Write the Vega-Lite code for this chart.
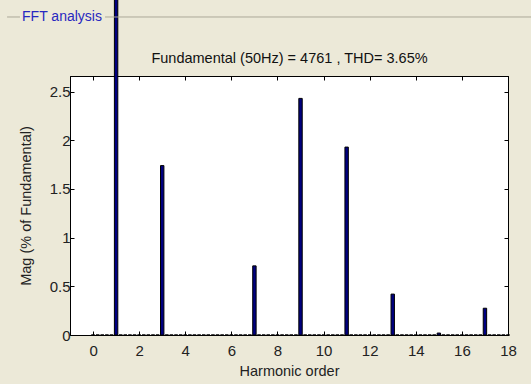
{
  "$schema": "https://vega.github.io/schema/vega-lite/v6.json",
  "width": 438,
  "height": 259,
  "autosize": {"type": "none"},
  "padding": {"left": 70, "top": 76, "right": 23, "bottom": 49},
  "background": "#ECE9D8",
  "config": {
    "view": {"fill": "white", "stroke": "black", "strokeWidth": 1},
    "font": "Liberation Sans",
    "axis": {
      "grid": false,
      "labelFont": "Liberation Sans",
      "titleFont": "Liberation Sans",
      "labelFontSize": 15,
      "titleFontSize": 14.5,
      "titleFontWeight": "normal",
      "labelColor": "#222",
      "titleColor": "#222",
      "tickColor": "#000",
      "domainColor": "#000",
      "tickSize": -4
    }
  },
  "resolve": {"axis": {"x": "independent", "y": "independent"}},
  "layer": [
    {
      "data": {
        "values": [
          {"h": 0.0, "mag": 0}, {"h": 0.2, "mag": 0}, {"h": 0.4, "mag": 0}, {"h": 0.6, "mag": 0}, {"h": 0.8, "mag": 0},
          {"h": 1.0, "mag": 100}, {"h": 1.2, "mag": 0}, {"h": 1.4, "mag": 0}, {"h": 1.6, "mag": 0}, {"h": 1.8, "mag": 0},
          {"h": 2.0, "mag": 0}, {"h": 2.2, "mag": 0}, {"h": 2.4, "mag": 0}, {"h": 2.6, "mag": 0}, {"h": 2.8, "mag": 0},
          {"h": 3.0, "mag": 1.74}, {"h": 3.2, "mag": 0}, {"h": 3.4, "mag": 0}, {"h": 3.6, "mag": 0}, {"h": 3.8, "mag": 0},
          {"h": 4.0, "mag": 0}, {"h": 4.2, "mag": 0}, {"h": 4.4, "mag": 0}, {"h": 4.6, "mag": 0}, {"h": 4.8, "mag": 0},
          {"h": 5.0, "mag": 0}, {"h": 5.2, "mag": 0}, {"h": 5.4, "mag": 0}, {"h": 5.6, "mag": 0}, {"h": 5.8, "mag": 0},
          {"h": 6.0, "mag": 0}, {"h": 6.2, "mag": 0}, {"h": 6.4, "mag": 0}, {"h": 6.6, "mag": 0}, {"h": 6.8, "mag": 0},
          {"h": 7.0, "mag": 0.71}, {"h": 7.2, "mag": 0}, {"h": 7.4, "mag": 0}, {"h": 7.6, "mag": 0}, {"h": 7.8, "mag": 0},
          {"h": 8.0, "mag": 0}, {"h": 8.2, "mag": 0}, {"h": 8.4, "mag": 0}, {"h": 8.6, "mag": 0}, {"h": 8.8, "mag": 0},
          {"h": 9.0, "mag": 2.43}, {"h": 9.2, "mag": 0}, {"h": 9.4, "mag": 0}, {"h": 9.6, "mag": 0}, {"h": 9.8, "mag": 0},
          {"h": 10.0, "mag": 0}, {"h": 10.2, "mag": 0}, {"h": 10.4, "mag": 0}, {"h": 10.6, "mag": 0}, {"h": 10.8, "mag": 0},
          {"h": 11.0, "mag": 1.93}, {"h": 11.2, "mag": 0}, {"h": 11.4, "mag": 0}, {"h": 11.6, "mag": 0}, {"h": 11.8, "mag": 0},
          {"h": 12.0, "mag": 0}, {"h": 12.2, "mag": 0}, {"h": 12.4, "mag": 0}, {"h": 12.6, "mag": 0}, {"h": 12.8, "mag": 0},
          {"h": 13.0, "mag": 0.42}, {"h": 13.2, "mag": 0}, {"h": 13.4, "mag": 0}, {"h": 13.6, "mag": 0}, {"h": 13.8, "mag": 0},
          {"h": 14.0, "mag": 0}, {"h": 14.2, "mag": 0}, {"h": 14.4, "mag": 0}, {"h": 14.6, "mag": 0}, {"h": 14.8, "mag": 0},
          {"h": 15.0, "mag": 0.02}, {"h": 15.2, "mag": 0}, {"h": 15.4, "mag": 0}, {"h": 15.6, "mag": 0}, {"h": 15.8, "mag": 0},
          {"h": 16.0, "mag": 0}, {"h": 16.2, "mag": 0}, {"h": 16.4, "mag": 0}, {"h": 16.6, "mag": 0}, {"h": 16.8, "mag": 0},
          {"h": 17.0, "mag": 0.275}, {"h": 17.2, "mag": 0}, {"h": 17.4, "mag": 0}, {"h": 17.6, "mag": 0}, {"h": 17.8, "mag": 0},
          {"h": 18.0, "mag": 0}
        ]
      },
      "mark": {"type": "bar", "orient": "vertical", "width": 3.4, "fill": "#000080", "stroke": "#000", "strokeWidth": 1, "clip": false},
      "encoding": {
        "x": {
          "field": "h", "type": "quantitative",
          "scale": {"domain": [-1, 18], "nice": false, "zero": false, "padding": 0},
          "axis": {"orient": "bottom", "values": [0, 2, 4, 6, 8, 10, 12, 14, 16, 18], "title": "Harmonic order", "labelPadding": 12, "titlePadding": 6, "labelFlush": false}
        },
        "y": {
          "field": "mag", "type": "quantitative",
          "scale": {"domain": [0, 2.66], "nice": false, "padding": 0},
          "axis": {"orient": "left", "values": [0, 0.5, 1, 1.5, 2, 2.5], "format": "~g", "title": "Mag (% of Fundamental)", "labelPadding": 4, "titlePadding": 16, "labelFlush": false}
        }
      }
    },
    {
      "data": {"values": [{}]},
      "mark": {"type": "rule", "color": "#ACA899", "strokeWidth": 1, "clip": false},
      "encoding": {
        "x": {
          "datum": 0.52, "type": "quantitative",
          "scale": {"domain": [-1, 18], "nice": false, "zero": false, "padding": 0},
          "axis": {"orient": "top", "values": [0, 2, 4, 6, 8, 10, 12, 14, 16, 18], "labels": false, "title": "Fundamental (50Hz) = 4761 , THD= 3.65%", "titleColor": "#111", "titlePadding": 10}
        },
        "x2": {"datum": 19.05},
        "y": {
          "datum": 3.266, "type": "quantitative",
          "scale": {"domain": [0, 2.66], "nice": false, "padding": 0},
          "axis": {"orient": "right", "values": [0, 0.5, 1, 1.5, 2, 2.5], "labels": false, "title": null}
        }
      }
    },
    {
      "data": {"values": [{}]},
      "mark": {"type": "rule", "color": "#ACA899", "strokeWidth": 1, "clip": false},
      "encoding": {
        "x": {"datum": -3.73, "type": "quantitative", "scale": {"domain": [-1, 18], "nice": false, "zero": false, "padding": 0}, "axis": null},
        "x2": {"datum": -3.17},
        "y": {"datum": 3.266, "type": "quantitative", "scale": {"domain": [0, 2.66], "nice": false, "padding": 0}, "axis": null}
      }
    },
    {
      "data": {"values": [{"label": "FFT analysis"}]},
      "mark": {"type": "text", "align": "left", "baseline": "middle", "font": "Liberation Sans", "fontSize": 14, "color": "#2828C0", "clip": false},
      "encoding": {
        "x": {"datum": -3.08, "type": "quantitative", "scale": {"domain": [-1, 18], "nice": false, "zero": false, "padding": 0}, "axis": null},
        "y": {"datum": 3.266, "type": "quantitative", "scale": {"domain": [0, 2.66], "nice": false, "padding": 0}, "axis": null},
        "text": {"field": "label"}
      }
    }
  ]
}
